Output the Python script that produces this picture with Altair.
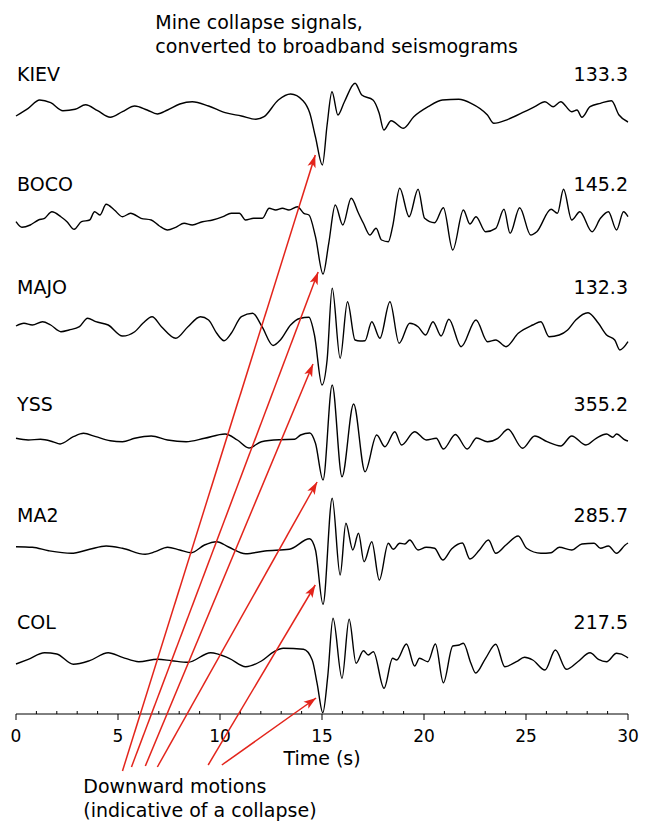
import math
import altair as alt
import pandas as pd

# ---------------- data ----------------
STATIONS = ["KIEV", "BOCO", "MAJO", "YSS", "MA2", "COL"]
PEAK_LABELS = ["133.3", "145.2", "132.3", "355.2", "285.7", "217.5"]

KIEV_T = [0.0, 0.6, 1.16, 1.7, 2.3, 2.9, 3.41, 4.0, 4.62, 5.22, 5.82, 6.43, 6.93, 7.43, 8.03, 8.64, 9.44, 10.25, 11.05, 11.76,
          12.16, 12.86, 13.46, 14.07, 14.4, 14.68, 15.02, 15.25, 15.49, 15.78, 16.1, 16.62, 16.95, 17.5, 17.8, 18.03, 18.39, 18.99,
          19.5, 20.2, 20.9, 21.7, 22.31, 23.11, 23.42, 24.12, 24.93, 25.43, 25.93, 26.33, 26.7, 27.24, 27.5, 27.74, 28.14, 28.65,
          29.19, 29.56, 30.0]
KIEV_A = [-6, 1.7, 10, 7.3, -0.7, 0.7, 5.3, -0.7, -7.3, -1.7, 4, 0, -4, 0, 6, 8.3, 4, -2.7, -6, -9.3,
          -6.7, 10, 16, 9.3, -3, -27, -55, -15, 18.3, -5, 8.3, 26.7, 15, 10, -3, -20, -10.7, -18.3,
          -6.7, 3.3, 10, 10.7, 6.7, -5, -13.3, -9.3, -1.7, 3.3, 8.3, 3.3, 8.3, -1.7, 0, -7.3, 3.3, 6.7,
          9.3, -5, -12]

BOCO_T = [0.0, 0.29, 0.7, 1.1, 1.4, 1.76, 2.2, 2.5, 2.85, 3.21, 3.61, 3.85, 4.11, 4.42, 4.82, 5.22, 5.62, 6.13, 6.63, 7.03,
          7.43, 7.83, 8.24, 8.64, 9.14, 9.64, 10.15, 10.55, 10.95, 11.25, 11.65, 12.08, 12.41, 12.73, 13.06, 13.38, 13.79, 14.11,
          14.36, 14.68, 15.05, 15.33, 15.65, 16.02, 16.43, 16.79, 17.03, 17.35, 17.65, 17.92, 18.25, 18.46, 18.81, 19.27, 19.71,
          20.03, 20.52, 20.95, 21.41, 21.93, 22.25, 22.55, 23.02, 23.52, 23.92, 24.22, 24.69, 25.23, 25.53, 26.23, 26.54, 26.84,
          27.24, 27.64, 28.24, 28.65, 29.04, 29.44, 29.78, 30.0]
BOCO_A = [-1.7, -7.3, -5, 0, 1.7, 8.3, 3.3, -1.7, -9.3, -1.7, 0, 8.3, 5, 15.7, 10, 3.3, 6.7, 1.7, 0, -6,
          -10, -7.3, -3.3, -5, -1.7, 0, 3.3, 6.7, 6.7, 0, 1.7, 1.7, 11.7, 10, 11.7, 10, 13.3, 6.7,
          5, -16.7, -54, -23.3, 15, -5, 21.7, 6.7, -3.3, -15, -8.3, -20, -21.7, -6.7, 31.7, 3.3, 30.7,
          1.7, -2.7, 12.3, -30, 10, -4, 3.3, -11.7, -8.3, 10.7, -13.3, 12.3, -15, -11.7, 10.7, 6.7, 30.7,
          0, 8.3, -11.7, 1.7, 8.3, -10, 8.3, 3.3]

MAJO_T = [0.0, 0.39, 0.8, 1.3, 1.7, 2.2, 2.6, 3.11, 3.51, 3.91, 4.52, 5.22, 5.82, 6.22, 6.67, 7.13, 7.83, 8.43, 9.04, 9.44,
          9.84, 10.2, 10.55, 11.05, 11.6, 12.06, 12.6, 12.96, 13.46, 13.9, 14.36, 14.63, 15.0, 15.25, 15.5, 15.89, 16.25, 16.62,
          16.87, 17.11, 17.44, 17.84, 18.33, 18.78, 19.3, 19.71, 20.08, 20.44, 20.84, 21.22, 21.82, 22.55, 23.11, 23.52, 24.02,
          24.62, 25.33, 25.73, 26.13, 26.63, 27.04, 27.44, 28.04, 28.55, 28.95, 29.35, 29.6, 30.0]
MAJO_A = [-1, 1.7, 0, 3.3, 0, -6.7, -5, -1.7, 6.7, 3.3, 0, -11, -6.7, 1.7, 8.3, -1.7, -13.3, -1.7, 8.3, 5,
          -8.3, -15.7, -8.3, 8.3, 11.7, -1.7, -20.5, -15, 0, 6.5, 7.7, -10, -60, -35, 36.7, -33.3, 23.3, -15,
          -16, -15.7, 3.3, -13.3, 23.3, -18.3, 1.7, -1.7, -10, 3.3, -11, 5.7, -21.7, 5, -16.7, -15, -21.7,
          -8.3, 0, 3.3, -11.7, -10, -5, 5, 12.3, 1.7, -10, -15, -25, -16.7]

YSS_T = [0.0, 0.6, 1.2, 1.8, 2.16, 2.81, 3.31, 3.91, 4.62, 5.22, 5.82, 6.63, 7.43, 8.34, 9.24, 10.25, 10.85, 11.42, 12.03,
         12.9, 13.66, 13.95, 14.4, 14.68, 15.05, 15.5, 15.98, 16.55, 17.11, 17.68, 18.08, 18.57, 18.9, 19.54, 20.11, 20.6,
         20.95, 21.54, 22.12, 22.58, 23.11, 23.62, 24.12, 24.83, 25.43, 26.03, 26.7, 27.24, 27.94, 28.44, 28.95, 29.25, 29.44,
         29.86, 30.0]
YSS_A = [-0.3, -2, -1.3, -3.7, -6, 1.3, 4.7, 1.3, -2.7, -3.7, -0.3, 2, -2, -3.7, -0.3, 4, -2, -10, -3.7,
         -1.7, -1.3, 3, 5, -5.3, -42, 53, -38.7, 34, -33.7, 3, -8.7, 6.3, -7, 6.3, -2, -0.3,
         -11, 3.5, -11, 0, -3.7, -0.3, 8.7, -10.3, 2, -3.7, -8, 2, -7, -0.3, 4, 0.7, 4,
         -2, -3]

MA2_T = [0.0, 0.8, 1.6, 2.71, 3.61, 4.42, 5.22, 6.33, 6.83, 7.43, 8.03, 8.6, 9.24, 9.84, 10.42, 11.26, 12.2, 13.4, 14.39,
         14.68, 15.05, 15.5, 15.89, 16.17, 16.51, 16.79, 17.06, 17.44, 17.81, 18.25, 18.49, 18.81, 19.06, 19.3, 19.71, 20.11,
         20.52, 20.92, 21.35, 21.88, 22.25, 22.72, 23.16, 23.52, 24.02, 24.62, 25.03, 25.73, 26.23, 26.63, 27.24, 27.74, 28.34,
         28.65, 29.04, 29.44, 29.86, 30.0]
MA2_A = [1.3, 0.7, -2.7, -5.3, -1.3, 2, -0.3, -6.3, -3.7, 0.7, -2, -4.7, 3, 6.3, 1, -5.7, -3, -1.3, 9.2,
         -2, -56.3, 49.7, -27, 24.7, -2, 14.7, -13.7, 6.3, -32, 4.7, -1.3, 4.7, 4, 8, -2, 0.7,
         -0.3, -12, -1, 5, -11, -2, 8, -5.3, 3, 12, -0.3, -5.3, -4.7, 0.7, -2, 4, 4.7,
         -0.3, 2, -5.3, 3, 5]

COL_T = [0.0, 0.6, 1.4, 2.0, 2.81, 3.61, 4.52, 5.22, 6.02, 6.93, 7.63, 8.43, 9.54, 10.45, 11.26, 12.03, 12.65, 13.1, 14.09,
         14.52, 14.76, 15.04, 15.28, 15.54, 15.98, 16.33, 16.67, 17.03, 17.27, 17.52, 18.04, 18.46, 18.66, 19.14, 19.54, 19.78,
         20.19, 20.56, 20.95, 21.41, 21.73, 21.93, 22.3, 22.53, 23.02, 23.52, 23.96, 24.53, 24.93, 25.33, 25.93, 26.44, 26.98,
         27.54, 28.14, 28.55, 28.95, 29.44, 29.92, 30.0]
COL_A = [-4, 0.7, 7.3, 6, -4.3, -0.7, 7.3, 2.7, -1.7, 0.7, -0.7, -2.3, 7.3, 1.7, -6.7, -1, 8.3, 11.7, 10.7,
         0, -23.3, -52.7, -16.7, 41.7, -18.3, 40.7, -3.3, 9.3, 5, 8.3, -28.3, 1.7, 0, 16, -6, 1.7,
         -1.7, 16, -22.7, 14, 15, 16.7, -3.3, -13, 1.7, 15.7, -6.7, -1.7, 2.7, 0, -10, 10, -9.3,
         -1.7, 7.3, 0.7, -1.7, 6.7, 3.3, 2]

TRACES_T = [KIEV_T, BOCO_T, MAJO_T, YSS_T, MA2_T, COL_T]
TRACES_A = [KIEV_A, BOCO_A, MAJO_A, YSS_A, MA2_A, COL_A]

# arrows: tail (near the caption) -> head (at the first downward motion)
ARROW_TAIL_T = [5.22, 5.66, 6.34, 6.93, 9.42, 10.09]
ARROW_TAIL_V = [-57, -53, -52, -53, -51, -51]
ARROW_HEAD_T = [14.67, 14.81, 14.56, 14.76, 14.67, 14.71]
ARROW_HEAD_V = [559, 442, 350, 232, 129, 16]

MAJOR_TICKS = [0, 5, 10, 15, 20, 25, 30]
MINOR_TICKS = [v for v in range(0, 31) if v % 5 != 0]
X_TITLE = "Time (s)"

TITLE_LINES = ["Mine collapse signals,", "converted to broadband seismograms"]
CAPTION_LINES = ["Downward motions", "(indicative of a collapse)"]

# ---------------- layout ----------------
W, H = 612, 701
TRACE_OFFSET = [604, 494, 389, 276, 166, 54]
LABEL_BASE = [633.3, 523, 420, 303.5, 192, 85]
LABEL_LEFT_X, LABEL_RIGHT_X = 0.05, 30.0
TITLE_POS = [(6.83, 684.7), (6.83, 660.7)]
CAPTION_POS = [(3.3, -78.7), (3.3, -103.3)]
MINOR_LEN, MAJOR_LEN = 3, -6
TICK_LABEL_BASE = -27.7
X_TITLE_POS = (15.0, -51.3)
FONT = "DejaVu Sans"
FS = 19
RED = "#e3241b"

xs = alt.Scale(domain=[0, 30], nice=False, zero=False)
ys = alt.Scale(domain=[0, H], nice=False, zero=False)


def X(f):
    return alt.X(f, type="quantitative", scale=xs, axis=None)


def Y(f):
    return alt.Y(f, type="quantitative", scale=ys, axis=None)


rows = []
for s, ts, amps, off in zip(STATIONS, TRACES_T, TRACES_A, TRACE_OFFSET):
    for t, a in zip(ts, amps):
        rows.append({"station": s, "t": t, "v": off + a})
traces = pd.DataFrame(rows)

lines = alt.Chart(traces).mark_line(
    color="black", strokeWidth=1.4, interpolate="monotone"
).encode(x=X("t"), y=Y("v"), detail="station:N")

# ---- hand-made x axis ----
dom_df = pd.DataFrame({"x0": [MAJOR_TICKS[0]], "x1": [MAJOR_TICKS[-1]], "y": [0]})
domain = alt.Chart(dom_df).mark_rule(color="black", strokeWidth=1).encode(x=X("x0"), x2="x1:Q", y=Y("y"))

tick_df = pd.DataFrame({
    "t": MAJOR_TICKS + MINOR_TICKS,
    "y0": [0] * (len(MAJOR_TICKS) + len(MINOR_TICKS)),
    "y1": [MAJOR_LEN] * len(MAJOR_TICKS) + [MINOR_LEN] * len(MINOR_TICKS),
})
ticks = alt.Chart(tick_df).mark_rule(color="black", strokeWidth=1).encode(x=X("t"), y=Y("y0"), y2="y1:Q")

tl_df = pd.DataFrame({"t": MAJOR_TICKS, "lab": [str(v) for v in MAJOR_TICKS],
                      "y": [TICK_LABEL_BASE] * len(MAJOR_TICKS)})
tick_labels = alt.Chart(tl_df).mark_text(
    align="center", baseline="alphabetic", font=FONT, fontSize=17, color="black"
).encode(x=X("t"), y=Y("y"), text="lab:N")

xt_df = pd.DataFrame({"x": [X_TITLE_POS[0]], "y": [X_TITLE_POS[1]], "text": [X_TITLE]})
x_title = alt.Chart(xt_df).mark_text(
    align="center", baseline="alphabetic", font=FONT, fontSize=FS, color="black"
).encode(x=X("x"), y=Y("y"), text="text:N")

# ---- station labels ----
lab_df = pd.DataFrame({"station": STATIONS, "num": PEAK_LABELS, "y": LABEL_BASE,
                       "xl": [LABEL_LEFT_X] * len(STATIONS), "xr": [LABEL_RIGHT_X] * len(STATIONS)})
left_labels = alt.Chart(lab_df).mark_text(
    align="left", baseline="alphabetic", font=FONT, fontSize=FS, color="black"
).encode(x=X("xl"), y=Y("y"), text="station:N")
right_labels = alt.Chart(lab_df).mark_text(
    align="right", baseline="alphabetic", font=FONT, fontSize=FS, color="black"
).encode(x=X("xr"), y=Y("y"), text="num:N")

txt_df = pd.DataFrame({
    "text": TITLE_LINES + CAPTION_LINES,
    "x": [p[0] for p in TITLE_POS + CAPTION_POS],
    "y": [p[1] for p in TITLE_POS + CAPTION_POS],
})
texts = alt.Chart(txt_df).mark_text(
    align="left", baseline="alphabetic", font=FONT, fontSize=FS, color="black"
).encode(x=X("x"), y=Y("y"), text="text:N")

# ---- arrows ----
angles = []
for t0, v0, t1, v1 in zip(ARROW_TAIL_T, ARROW_TAIL_V, ARROW_HEAD_T, ARROW_HEAD_V):
    dx = (t1 - t0) * W / 30.0
    dy = (v1 - v0) * H / float(H)
    angles.append(math.degrees(math.atan2(dx, dy)))
arr_df = pd.DataFrame({"t0": ARROW_TAIL_T, "v0": ARROW_TAIL_V, "t1": ARROW_HEAD_T,
                       "v1": ARROW_HEAD_V, "ang": angles})
arrow_lines = alt.Chart(arr_df).mark_rule(color=RED, strokeWidth=1.5).encode(
    x=X("t0"), y=Y("v0"), x2="t1:Q", y2="v1:Q",
)
arrow_heads = alt.Chart(arr_df).mark_point(
    shape="M0,0L0.42,1.25L0,0.95L-0.42,1.25Z", size=400, filled=True, color=RED, opacity=1, strokeWidth=0
).encode(
    x=X("t1"), y=Y("v1"), angle=alt.Angle("ang:Q", scale=None),
)

chart = alt.layer(
    lines, domain, ticks, tick_labels, x_title, arrow_lines, arrow_heads, left_labels, right_labels, texts
).properties(
    width=W, height=H,
    autosize=alt.AutoSizeParams(type="none"),
    padding={"left": 8, "top": 5, "right": 12, "bottom": 108},
).configure_view(stroke=None)

chart.save("out.html", embed_options={"renderer": "svg", "actions": False})
